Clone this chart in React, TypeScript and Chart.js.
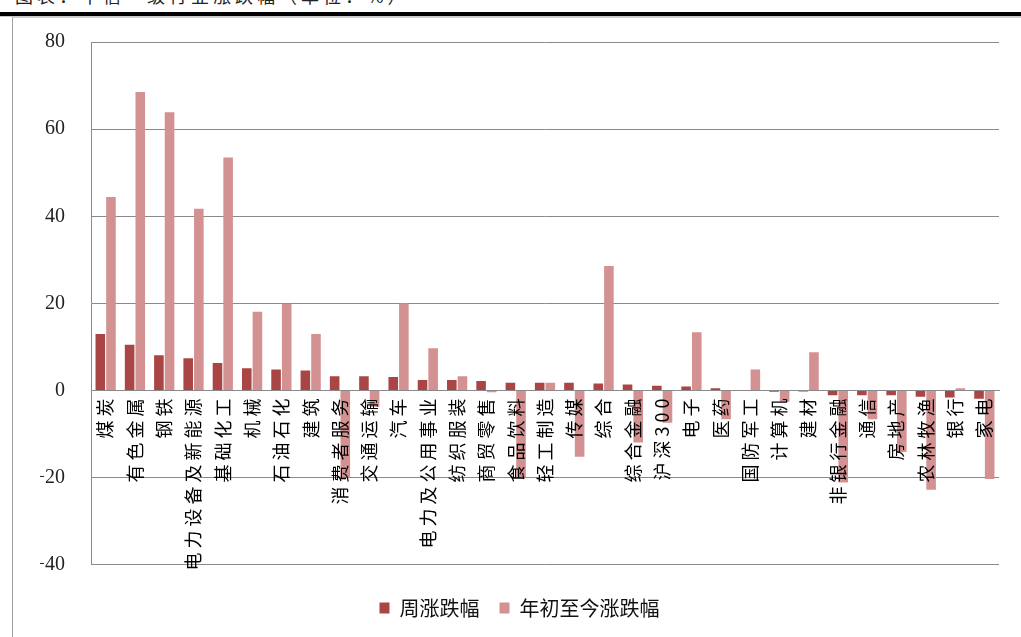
import React, { useEffect, useRef } from 'react';
import { Chart, registerables } from 'chart.js';

Chart.register(...registerables);

const titleText = '图表：中信一级行业涨跌幅（单位：%）';

const categories = [
  '煤炭', '有色金属', '钢铁', '电力设备及新能源', '基础化工', '机械', '石油石化', '建筑',
  '消费者服务', '交通运输', '汽车', '电力及公用事业', '纺织服装', '商贸零售', '食品饮料',
  '轻工制造', '传媒', '综合', '综合金融', '沪深300', '电子', '医药', '国防军工', '计算机',
  '建材', '非银行金融', '通信', '房地产', '农林牧渔', '银行', '家电',
];

const weeklyChange = [
  13.0, 10.5, 8.1, 7.4, 6.3, 5.1, 4.8, 4.6,
  3.3, 3.3, 3.1, 2.4, 2.4, 2.2, 1.8,
  1.8, 1.8, 1.6, 1.4, 1.1, 0.9, 0.5, 0.0, -0.3,
  -0.2, -1.1, -1.1, -1.1, -1.4, -1.6, -1.9,
];

const ytdChange = [
  44.4, 68.5, 63.9, 41.7, 53.5, 18.1, 19.9, 13.0,
  -19.9, -3.7, 20.0, 9.7, 3.3, -0.4, -20.0,
  1.8, -15.2, 28.6, -11.9, -7.4, 13.4, -6.6, 4.8, -2.6,
  8.8, -21.1, -6.6, -14.1, -22.8, 0.5, -20.3,
];

const seriesNames = ['周涨跌幅', '年初至今涨跌幅'];
const seriesColors = ['#A94645', '#D39192'];
const yMin = -40;
const yMax = 80;
const yStep = 20;

const xLabelSpacing = {
  id: 'xLabelSpacing',
  afterDatasetsDraw(chart: any) {
    chart.ctx.letterSpacing = '4px';
  },
  afterDraw(chart: any) {
    chart.ctx.letterSpacing = '0px';
  },
};

export default function App() {
  const canvasRef = useRef<HTMLCanvasElement | null>(null);

  useEffect(() => {
    const canvas = canvasRef.current;
    if (!canvas) return;
    const chart = new Chart(canvas, {
      type: 'bar',
      data: {
        labels: categories,
        datasets: [
          {
            label: seriesNames[0],
            data: weeklyChange,
            backgroundColor: seriesColors[0],
            categoryPercentage: 0.727,
            barPercentage: 0.9,
          },
          {
            label: seriesNames[1],
            data: ytdChange,
            backgroundColor: seriesColors[1],
            categoryPercentage: 0.727,
            barPercentage: 0.9,
          },
        ],
      },
      options: {
        animation: false,
        responsive: false,
        devicePixelRatio: 1,
        layout: { padding: { left: 40, right: 22, top: 42, bottom: 32 } },
        plugins: {
          tooltip: { enabled: false },
          legend: {
            position: 'bottom',
            title: {
              display: true,
              text: ' ',
              font: { size: 1 },
              padding: { top: 12, bottom: 0 },
            },
            labels: {
              boxWidth: 10,
              boxHeight: 11,
              padding: 20,
              color: '#111',
              font: { family: '"Noto Sans CJK SC", sans-serif', size: 20 },
            },
          },
        },
        scales: {
          x: {
            position: { y: 0 } as any,
            grid: { display: false, drawTicks: false },
            border: { display: true, color: '#8a8a8a' },
            ticks: {
              autoSkip: false,
              minRotation: 90,
              maxRotation: 90,
              padding: 4,
              color: '#000',
              z: 1,
              font: { family: '"Noto Sans CJK SC", sans-serif', size: 18 },
            },
          },
          y: {
            min: yMin,
            max: yMax,
            grid: { color: '#8a8a8a', drawTicks: false, lineWidth: 1 },
            border: { color: '#8a8a8a' },
            ticks: {
              stepSize: yStep,
              padding: 26,
              color: '#222',
              font: { family: '"Liberation Serif", serif', size: 20 },
              callback: (v: any) => (Number(v) < 0 ? '\u2212' : '') + Math.abs(Number(v)),
            },
            afterFit(scale: any) {
              scale.width = 51;
            },
          },
        },
      } as any,
      plugins: [xLabelSpacing],
    });
    return () => chart.destroy();
  }, []);

  return (
    <div
      style={{
        position: 'absolute',
        left: 0,
        top: 0,
        width: 1021,
        height: 637,
        overflow: 'hidden',
        background: '#fff',
      }}
    >
      <div
        style={{
          position: 'absolute',
          left: 15,
          top: -15,
          fontFamily: '"Noto Sans CJK SC", sans-serif',
          fontSize: 18,
          lineHeight: '20px',
          letterSpacing: '4px',
          color: '#222',
          whiteSpace: 'nowrap',
        }}
      >
        {titleText}
      </div>
      <div style={{ position: 'absolute', left: 0, top: 12, width: 1021, height: 4, background: '#000' }} />
      <div style={{ position: 'absolute', left: 0, top: 16, width: 1021, height: 1, background: '#c8c8c8' }} />
      <div
        style={{
          position: 'absolute',
          left: 12,
          top: 17,
          width: 1100,
          height: 700,
          borderLeft: '1px solid #a0a0a0',
          borderTop: '1px solid #d0d0d0',
        }}
      />
      <canvas
        ref={canvasRef}
        width={1021}
        height={660}
        style={{ position: 'absolute', left: 0, top: 0, width: 1021, height: 660 }}
      />
    </div>
  );
}
